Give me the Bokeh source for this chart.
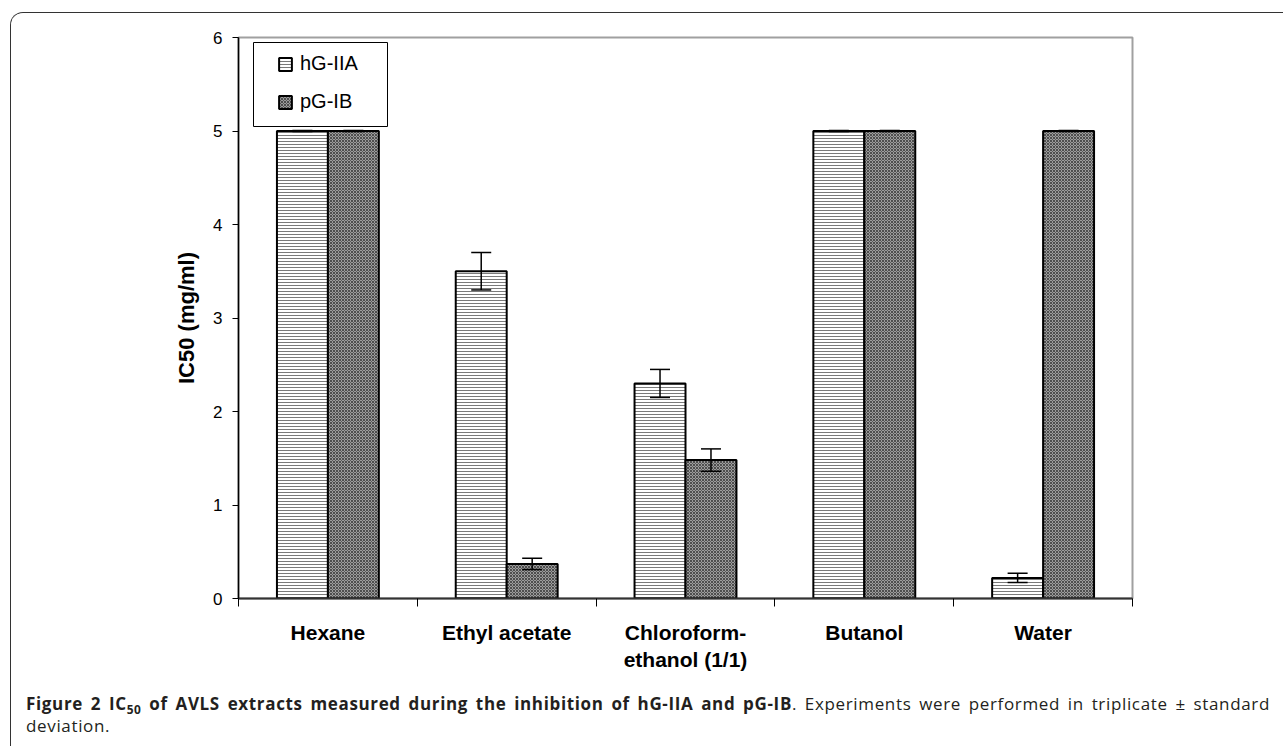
import numpy as np
from bokeh.plotting import figure
from bokeh.models import (ColumnDataSource, Range1d, FixedTicker, Whisker, Legend,
                          LegendItem, BoxAnnotation, Div)
from bokeh.layouts import column
from bokeh.embed import file_html
from bokeh.resources import INLINE

# ---- data ----
categories = ["Hexane", "Ethyl acetate", "Chloroform-\nethanol (1/1)", "Butanol", "Water"]
series_names = ["hG-IIA", "pG-IB"]
hg_iia = [5.0, 3.5, 2.3, 5.0, 0.22]
hg_iia_err = [0.005, 0.2, 0.15, 0.005, 0.05]
pg_ib = [5.0, 0.37, 1.48, 5.0, 5.0]
pg_ib_err = [0.005, 0.06, 0.12, 0.005, 0.005]
y_ticks = [0, 1, 2, 3, 4, 5, 6]
y_label = "IC50 (mg/ml)"
caption_bold = ("Figure 2 IC", "50", " of AVLS extracts measured during the inhibition of hG-IIA and pG-IB")
caption_rest = ". Experiments were performed in triplicate &plusmn; standard "
caption_last = "deviation."

# ---- layout params ----
n = len(categories)
centers = np.arange(n) + 0.5
bar_w = 0.285
FONT = "Liberation Sans"


def make_src(xs, vals, errs):
    v = np.array(vals)
    e = np.array(errs)
    return ColumnDataSource(dict(x=xs, top=v, upper=v + e, lower=v - e))


src_h = make_src(centers - bar_w / 2, hg_iia, hg_iia_err)
src_p = make_src(centers + bar_w / 2, pg_ib, pg_ib_err)

p = figure(width=1270, height=670, x_range=Range1d(0, n), y_range=Range1d(y_ticks[0], y_ticks[-1]),
           output_backend="svg", toolbar_location=None,
           min_border_left=227, min_border_right=149, min_border_top=24, min_border_bottom=85)
p.xgrid.visible = False
p.ygrid.visible = False
p.outline_line_color = "#a0a0a0"
p.outline_line_width = 2

r1 = p.vbar(x="x", top="top", bottom=0, width=bar_w, source=src_h,
            fill_color="white", hatch_pattern="horizontal_line", hatch_scale=3,
            hatch_color="#7a7a7a", hatch_weight=1, line_color="black", line_width=2)
r2 = p.vbar(x="x", top="top", bottom=0, width=bar_w, source=src_p,
            fill_color="#9c9c9c", hatch_pattern="diagonal_cross", hatch_scale=3,
            hatch_color="#4e4e4e", hatch_weight=1, line_color="black", line_width=2)

for s in (src_h, src_p):
    w = Whisker(source=s, base="x", upper="upper", lower="lower",
                line_color="black", line_width=1.5, level="overlay")
    for h in (w.upper_head, w.lower_head):
        h.size = 20
        h.line_width = 1.5
        h.line_color = "black"
    p.add_layout(w)

# y axis
p.yaxis.ticker = FixedTicker(ticks=y_ticks)
p.yaxis.axis_label = y_label
p.yaxis.axis_label_text_font = FONT
p.yaxis.axis_label_text_font_size = "22px"
p.yaxis.axis_label_text_font_style = "bold"
p.yaxis.axis_label_text_color = "black"
p.yaxis.axis_label_standoff = 11
p.yaxis.major_label_text_font = FONT
p.yaxis.major_label_text_font_size = "17px"
p.yaxis.major_label_text_color = "black"
p.yaxis.major_tick_out = 6
p.yaxis.major_tick_in = 0
p.yaxis.minor_tick_out = 0
p.yaxis.minor_tick_in = 0
p.yaxis.major_label_standoff = 10
p.yaxis.axis_line_color = "black"
p.yaxis.axis_line_width = 1.5
p.yaxis.major_tick_line_color = "black"

# x axis
p.xaxis.ticker = FixedTicker(ticks=list(centers), minor_ticks=list(range(n + 1)))
p.xaxis.major_label_overrides = {float(c): lab for c, lab in zip(centers, categories)}
p.xaxis.major_tick_out = 0
p.xaxis.major_tick_in = 0
p.xaxis.minor_tick_out = 8
p.xaxis.minor_tick_in = 0
p.xaxis.minor_tick_line_color = "black"
p.xaxis.minor_tick_line_width = 1
p.xaxis.axis_line_color = "#333333"
p.xaxis.axis_line_width = 2
p.xaxis.major_label_text_font = FONT
p.xaxis.major_label_text_font_size = "21px"
p.xaxis.major_label_text_font_style = "bold"
p.xaxis.major_label_text_color = "black"
p.xaxis.major_label_standoff = 14

# legend
legend = Legend(items=[LegendItem(label=series_names[0], renderers=[r1]),
                       LegendItem(label=series_names[1], renderers=[r2])],
                location=(39, 485), padding=0, margin=0, spacing=15,
                glyph_width=16, glyph_height=16, label_height=23, label_standoff=7,
                label_text_font=FONT, label_text_font_size="20px", label_text_color="black",
                border_line_alpha=0, background_fill_alpha=0)
p.add_layout(legend)
p.add_layout(BoxAnnotation(left=15, right=149, top=556, bottom=472,
                           left_units="screen", right_units="screen",
                           top_units="screen", bottom_units="screen",
                           fill_alpha=0, line_color="black", line_width=1, line_alpha=1))

caption_html = (
    '<div style="font-family:\'Open Sans\'; font-size:17px; letter-spacing:0.65px; line-height:22px; '
    'text-align:justify; color:#231f20; padding:5px 16px 0 10px;">'
    '<b>' + caption_bold[0]
    + '<sub style="font-size:70%; vertical-align:-0.3em; line-height:0">' + caption_bold[1] + '</sub>'
    + caption_bold[2] + '</b>' + caption_rest
    + '<span>' + caption_last + '</span></div>'
)
cap = Div(text=caption_html, width=1270, height=60)

layout = column(p, cap, styles={
    "border-left": "1.6px solid #333333",
    "border-top": "1.6px solid #333333",
    "border-top-left-radius": "13px",
    "overflow": "hidden",
    "margin-left": "10px",
    "margin-top": "12px",
})

open("out.html", "w").write(file_html(layout, INLINE))
